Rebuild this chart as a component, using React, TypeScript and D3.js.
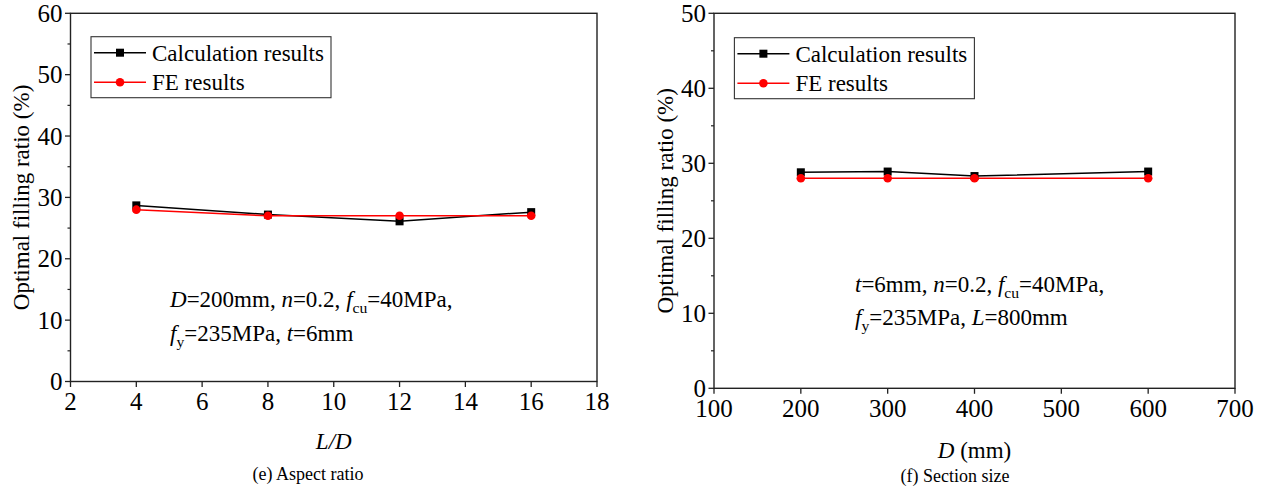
import React from "react";
import * as d3 from "d3";

// (e) aspect ratio series
const aspectRatios = [4, 8, 12, 16];
const aspectCalc = [28.7, 27.2, 26.1, 27.6];
const aspectFE = [28, 27, 27, 27];
const aspectXTicks = [2, 4, 6, 8, 10, 12, 14, 16, 18];
const aspectYTicks = [0, 10, 20, 30, 40, 50, 60];

// (f) section size series
const sectionSizes = [200, 300, 400, 600];
const sectionCalc = [28.8, 28.9, 28.3, 28.9];
const sectionFE = [28, 28, 28, 28];
const sectionXTicks = [100, 200, 300, 400, 500, 600, 700];
const sectionYTicks = [0, 10, 20, 30, 40, 50];

const seriesNames = ["Calculation results", "FE results"];
const yTitle = "Optimal filling ratio (%)";

type Seg = { t: string; i?: boolean; sub?: boolean };

const aspectNote: Seg[][] = [
  [
    { t: "D", i: true }, { t: "=200mm, " }, { t: "n", i: true }, { t: "=0.2, " },
    { t: "f", i: true }, { t: "cu", sub: true }, { t: "=40MPa," },
  ],
  [
    { t: "f", i: true }, { t: "y", sub: true }, { t: "=235MPa, " }, { t: "t", i: true }, { t: "=6mm" },
  ],
];

const sectionNote: Seg[][] = [
  [
    { t: "t", i: true }, { t: "=6mm, " }, { t: "n", i: true }, { t: "=0.2, " },
    { t: "f", i: true }, { t: "cu", sub: true }, { t: "=40MPa," },
  ],
  [
    { t: "f", i: true }, { t: "y", sub: true }, { t: "=235MPa, " }, { t: "L", i: true }, { t: "=800mm" },
  ],
];

const FONT = "Liberation Serif, Tinos, Times New Roman, DejaVu Serif, serif";
const RED = "#ff0000";

function RichText({ x, y, segs, size }: { x: number; y: number; segs: Seg[]; size: number }) {
  const shift = size * 0.28;
  const out: React.ReactNode[] = [];
  let lowered = false;
  segs.forEach((s, k) => {
    let dy = 0;
    if (s.sub && !lowered) { dy = shift; lowered = true; }
    else if (!s.sub && lowered) { dy = -shift; lowered = false; }
    out.push(
      <tspan
        key={k}
        dy={dy || undefined}
        fontStyle={s.i ? "italic" : undefined}
        fontSize={s.sub ? size * 0.68 : undefined}
      >
        {s.t}
      </tspan>
    );
  });
  return (
    <text x={x} y={y} fontSize={size} style={{ fontFamily: FONT }} fill="#000">
      {out}
    </text>
  );
}

type PanelProps = {
  left: number; right: number; top: number; bottom: number;
  xDomain: [number, number]; yDomain: [number, number];
  xTicks: number[]; yTicks: number[];
  xs: number[]; calc: number[]; fe: number[];
  legendX: number; legendY: number;
  note: Seg[][]; noteX: number; noteY: number[];
  xTitle: React.ReactNode; xTitleY: number;
  caption: string; captionX: number; captionY: number;
};

function Panel(p: PanelProps) {
  const x = d3.scaleLinear().domain(p.xDomain).range([p.left, p.right]);
  const y = d3.scaleLinear().domain(p.yDomain).range([p.bottom, p.top]);
  const line = d3.line<number>().x((_, i) => x(p.xs[i])).y((d) => y(d));
  const step = p.yTicks[1] - p.yTicks[0];
  const minor = p.yTicks.slice(0, -1).map((v) => v + step / 2);
  const midY = (p.top + p.bottom) / 2;
  const midX = (p.left + p.right) / 2;
  const ms = 8;

  return (
    <g>
      {/* frame */}
      <rect x={p.left} y={p.top} width={p.right - p.left} height={p.bottom - p.top}
        fill="none" stroke="#222" strokeWidth={1.4} />
      {/* y ticks */}
      {p.yTicks.map((v) => (
        <g key={"y" + v}>
          <line x1={p.left - 5.5} x2={p.left} y1={y(v)} y2={y(v)} stroke="#222" strokeWidth={1.3} />
          <text x={p.left - 8} y={y(v)} dy="0.34em" textAnchor="end" fontSize={25}>{v}</text>
        </g>
      ))}
      {minor.map((v) => (
        <line key={"m" + v} x1={p.left - 3} x2={p.left} y1={y(v)} y2={y(v)} stroke="#222" strokeWidth={1.2} />
      ))}
      {/* x ticks */}
      {p.xTicks.map((v) => (
        <g key={"x" + v}>
          <line x1={x(v)} x2={x(v)} y1={p.bottom} y2={p.bottom + 5.5} stroke="#222" strokeWidth={1.3} />
          <text x={x(v)} y={p.bottom + 28.5} textAnchor="middle" fontSize={25}>{v}</text>
        </g>
      ))}
      {/* axis titles */}
      <text transform={`translate(${p.left - 49},${midY}) rotate(-90)`} textAnchor="middle" dy="0.34em"
        fontSize={23}>{yTitle}</text>
      <text x={midX} y={p.xTitleY} textAnchor="middle" fontSize={23}>{p.xTitle}</text>
      <text x={p.captionX} y={p.captionY} textAnchor="middle" fontSize={18}>{p.caption}</text>

      {/* series */}
      <path d={line(p.calc) || ""} fill="none" stroke="#000" strokeWidth={1.5} />
      <path d={line(p.fe) || ""} fill="none" stroke={RED} strokeWidth={1.5} />
      {p.calc.map((v, i) => (
        <rect key={"c" + i} x={x(p.xs[i]) - ms / 2} y={y(v) - ms / 2} width={ms} height={ms} fill="#000" />
      ))}
      {p.fe.map((v, i) => (
        <circle key={"f" + i} cx={x(p.xs[i])} cy={y(v)} r={4.3} fill={RED} />
      ))}

      {/* legend */}
      <rect x={p.legendX} y={p.legendY} width={240} height={61} fill="#fff" stroke="#333" strokeWidth={1.1} />
      {seriesNames.map((name, k) => {
        const ly = p.legendY + 16 + k * 29.5;
        const color = k === 0 ? "#000" : RED;
        const cx = p.legendX + 29;
        return (
          <g key={name}>
            <line x1={p.legendX + 3} x2={p.legendX + 55} y1={ly} y2={ly} stroke={color} strokeWidth={1.5} />
            {k === 0 ? (
              <rect x={cx - ms / 2} y={ly - ms / 2} width={ms} height={ms} fill="#000" />
            ) : (
              <circle cx={cx} cy={ly} r={4.3} fill={RED} />
            )}
            <text x={p.legendX + 61} y={ly} dy="0.34em" fontSize={23}>{name}</text>
          </g>
        );
      })}

      {/* conditions note */}
      {p.note.map((segs, k) => (
        <RichText key={k} x={p.noteX} y={p.noteY[k]} segs={segs} size={23} />
      ))}
    </g>
  );
}

export default function App() {
  return (
    <svg width={1261} height={491} viewBox="0 0 1261 491"
      style={{ position: "absolute", left: 0, top: 0, background: "#fff", fontFamily: FONT }}>
      <rect width={1261} height={491} fill="#fff" />
      <Panel
        left={70.5} right={597} top={13.3} bottom={381.5}
        xDomain={[2, 18]} yDomain={[0, 60]}
        xTicks={aspectXTicks} yTicks={aspectYTicks}
        xs={aspectRatios} calc={aspectCalc} fe={aspectFE}
        legendX={91} legendY={36.7}
        note={aspectNote} noteX={170} noteY={[307, 341]}
        xTitle={<tspan fontStyle="italic">L/D</tspan>} xTitleY={449}
        caption="(e) Aspect ratio" captionX={308} captionY={480}
      />
      <Panel
        left={714} right={1235} top={13.3} bottom={388.3}
        xDomain={[100, 700]} yDomain={[0, 50]}
        xTicks={sectionXTicks} yTicks={sectionYTicks}
        xs={sectionSizes} calc={sectionCalc} fe={sectionFE}
        legendX={734.4} legendY={37.7}
        note={sectionNote} noteX={855} noteY={[292, 325]}
        xTitle={<><tspan fontStyle="italic">D</tspan><tspan> (mm)</tspan></>} xTitleY={458}
        caption="(f) Section size" captionX={955} captionY={482}
      />
    </svg>
  );
}
